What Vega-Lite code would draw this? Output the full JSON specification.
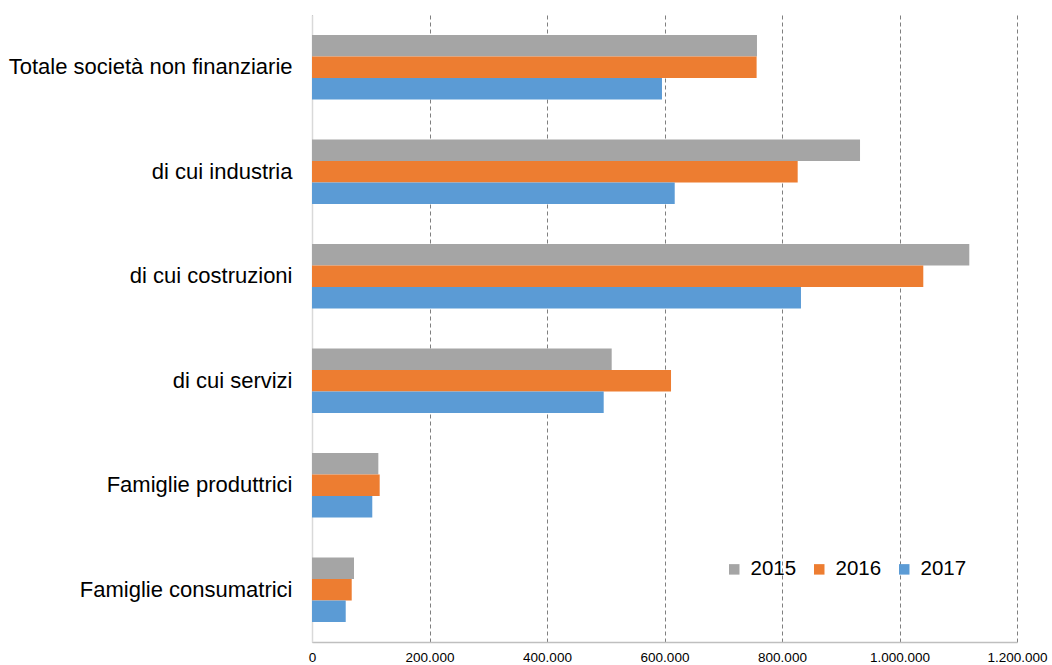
{
  "$schema": "https://vega.github.io/schema/vega-lite/v6.json",
  "width": 705,
  "height": 627,
  "autosize": "none",
  "padding": {"left": 312, "top": 15, "right": 35, "bottom": 23},
  "background": "white",
  "data": {
    "values": [
      {"categoria": "Totale società non finanziarie", "anno": "2015", "valore": 757400},
      {"categoria": "Totale società non finanziarie", "anno": "2016", "valore": 756800},
      {"categoria": "Totale società non finanziarie", "anno": "2017", "valore": 595700},
      {"categoria": "di cui industria", "anno": "2015", "valore": 932800},
      {"categoria": "di cui industria", "anno": "2016", "valore": 826700},
      {"categoria": "di cui industria", "anno": "2017", "valore": 617400},
      {"categoria": "di cui costruzioni", "anno": "2015", "valore": 1118800},
      {"categoria": "di cui costruzioni", "anno": "2016", "valore": 1040500},
      {"categoria": "di cui costruzioni", "anno": "2017", "valore": 832300},
      {"categoria": "di cui servizi", "anno": "2015", "valore": 510100},
      {"categoria": "di cui servizi", "anno": "2016", "valore": 611100},
      {"categoria": "di cui servizi", "anno": "2017", "valore": 496500},
      {"categoria": "Famiglie produttrici", "anno": "2015", "valore": 112900},
      {"categoria": "Famiglie produttrici", "anno": "2016", "valore": 115200},
      {"categoria": "Famiglie produttrici", "anno": "2017", "valore": 102600},
      {"categoria": "Famiglie consumatrici", "anno": "2015", "valore": 71500},
      {"categoria": "Famiglie consumatrici", "anno": "2016", "valore": 67600},
      {"categoria": "Famiglie consumatrici", "anno": "2017", "valore": 57400}
    ]
  },
  "mark": {"type": "bar"},
  "encoding": {
    "y": {
      "field": "categoria",
      "type": "nominal",
      "sort": null,
      "scale": {"paddingInner": 0.385, "paddingOuter": 0.1925},
      "axis": {
        "title": null,
        "ticks": false,
        "domain": true,
        "domainColor": "#d9d9d9",
        "domainWidth": 1.5,
        "labelFont": "Liberation Sans",
        "labelFontSize": 22,
        "labelColor": "#000000",
        "labelPadding": 20,
        "labelLimit": 400
      }
    },
    "yOffset": {
      "field": "anno",
      "type": "nominal",
      "sort": ["2015", "2016", "2017"],
      "scale": {"paddingInner": 0, "paddingOuter": 0}
    },
    "x": {
      "field": "valore",
      "type": "quantitative",
      "scale": {"domain": [0, 1200000], "nice": false},
      "axis": {
        "title": null,
        "values": [0, 200000, 400000, 600000, 800000, 1000000, 1200000],
        "labelExpr": "replace(format(datum.value, ','), regexp(',', 'g'), '.')",
        "labelFont": "Liberation Sans",
        "labelFontSize": 13.5,
        "labelColor": "#000000",
        "labelPadding": 8,
        "ticks": false,
        "domain": true,
        "domainColor": "#bfbfbf",
        "domainWidth": 1.5,
        "grid": true,
        "gridColor": "#7f7f7f",
        "gridDash": [4, 3],
        "gridWidth": 1,
        "labelFlush": false
      }
    },
    "color": {
      "field": "anno",
      "type": "nominal",
      "scale": {"domain": ["2015", "2016", "2017"], "range": ["#A5A5A5", "#ED7D31", "#5B9BD5"]},
      "legend": {
        "title": null,
        "orient": "none",
        "direction": "horizontal",
        "legendX": 412,
        "legendY": 544,
        "symbolType": "square",
        "symbolSize": 110,
        "symbolStrokeWidth": 0,
        "labelFont": "Liberation Sans",
        "labelFontSize": 20.5,
        "labelColor": "#000000",
        "labelOffset": 6,
        "columnPadding": 12,
        "padding": 0
      }
    }
  },
  "config": {
    "view": {"stroke": null},
    "axis": {"gridOpacity": 1}
  }
}
